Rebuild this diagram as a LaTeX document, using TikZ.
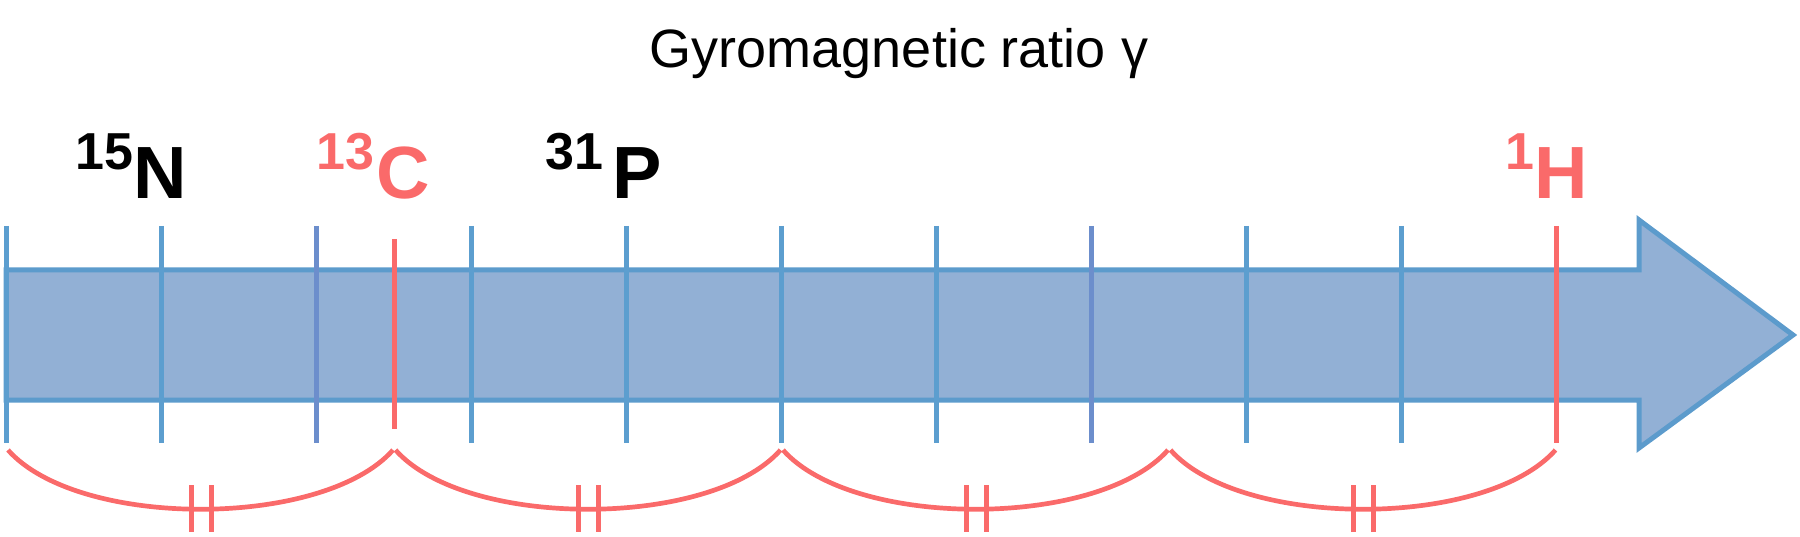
\documentclass[tikz,border=0pt]{standalone}
\usepackage{fontspec}
\setmainfont{Liberation Sans}
\definecolor{barfill}{RGB}{146,176,213}
\definecolor{barline}{RGB}{92,155,204}
\definecolor{tickblue}{RGB}{92,158,207}
\definecolor{tickpurple}{RGB}{108,142,204}
\definecolor{nred}{RGB}{250,106,106}
\newcommand{\isotope}[3]{\raisebox{29pt}{\fontsize{52}{52}\selectfont\bfseries #1}\kern#3{\fontsize{74}{74}\selectfont\bfseries #2}}
\begin{document}
\begin{tikzpicture}[x=1pt,y=-1pt,
  tickline/.style={draw=tickblue,line width=5pt},
  redline/.style={draw=nred,line width=5pt},
  arcline/.style={draw=nred,line width=4.7pt},
  lbl/.style={anchor=base west,inner sep=0pt}]
\useasboundingbox (0,0) rectangle (1800,537);
% title
\node[font=\fontsize{54}{54}\selectfont,anchor=base,inner sep=0pt] (title) at (899,68) {Gyromagnetic ratio γ};
% bar arrow
\draw[fill=barfill,draw=barline,line width=5pt,line join=miter]
  (6,270) -- (1639,270) -- (1639,220) -- (1793,335) -- (1639,448) -- (1639,400) -- (6,400) -- cycle;
% ticks
\foreach \i in {0,1,3,4,5,6,8,9} {
  \draw[tickline] ({6+155*\i},226) -- ({6+155*\i},443);
}
\foreach \i in {2,7} {
  \draw[tickline,draw=tickpurple] ({6+155*\i},226) -- ({6+155*\i},443);
}
\draw[redline] (394,239) -- (394,429);
\draw[redline] (1556,226) -- (1556,443);
% labels
\node[lbl] (N) at (75,199) {\isotope{15}{N}{0pt}};
\node[lbl,text=nred] (C) at (316,199) {\isotope{13}{C}{2pt}};
\node[lbl] (P) at (545,199) {\isotope{31}{P}{9pt}};
\node[lbl,text=nred] (H) at (1505,199) {\isotope{1}{H}{0pt}};
% arcs
\foreach \a in {0,1,2,3} {
  \pgfmathsetmacro{\xa}{8+387.5*\a}
  \pgfmathsetmacro{\xb}{\xa+385}
  \pgfmathsetmacro{\xm}{\xa+193}
  \draw[arcline] (\xa,450) .. controls (\xa+70,529) and (\xb-70,529) .. (\xb,450);
  \draw[redline] (\xm-10,485) -- (\xm-10,532);
  \draw[redline] (\xm+10,485) -- (\xm+10,532);
}
\end{tikzpicture}
\end{document}
